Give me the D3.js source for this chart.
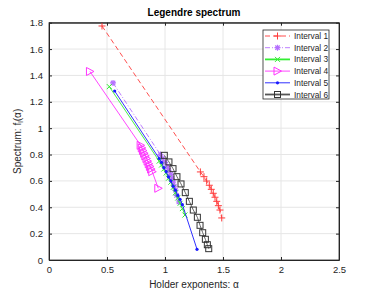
<!DOCTYPE html>
<html>
<head>
<meta charset="utf-8">
<script src="https://cdn.jsdelivr.net/npm/d3@7"></script>
<style>
  body { margin: 0; background: #fff; }
  svg { font-family: "Liberation Sans", Arial, sans-serif; }
  .grid line { stroke: #e6e6e6; stroke-width: 1; }
  .axis path, .axis line { stroke: #262626; }
  .axis text { fill: #262626; font-size: 9.5px; font-family: "Liberation Sans", Arial, sans-serif; }
</style>
</head>
<body>
<svg class="chart" width="374" height="292"></svg>
<script>
(function () {
  var xTicks = [0, 0.5, 1, 1.5, 2, 2.5];
  var yTicks = [0, 0.2, 0.4, 0.6, 0.8, 1, 1.2, 1.4, 1.6, 1.8];
  var names = ["Interval 1", "Interval 2", "Interval 3", "Interval 4", "Interval 5", "Interval 6"];

  var alpha1 = [0.457, 1.305, 1.336, 1.359, 1.382, 1.399, 1.416, 1.431, 1.446, 1.460, 1.474, 1.489];
  var spec1  = [1.775, 0.668, 0.632, 0.599, 0.567, 0.536, 0.506, 0.476, 0.445, 0.412, 0.379, 0.319];

  var alpha2 = [0.552, 0.96, 0.98, 1.00, 1.02, 1.03, 1.05, 1.06, 1.07, 1.08, 1.09, 1.10, 1.12];
  var spec2  = [1.343, 0.80, 0.77, 0.74, 0.71, 0.68, 0.65, 0.62, 0.59, 0.56, 0.53, 0.49, 0.44];

  var alpha3 = [0.52, 0.95, 0.97, 0.99, 1.01, 1.03, 1.05, 1.07, 1.09, 1.11, 1.13, 1.15, 1.172];
  var spec3  = [1.315, 0.75, 0.72, 0.69, 0.66, 0.62, 0.59, 0.55, 0.51, 0.47, 0.43, 0.39, 0.341];

  var alpha4 = [0.353, 0.79, 0.80, 0.81, 0.82, 0.83, 0.84, 0.85, 0.86, 0.87, 0.88, 0.89, 0.942];
  var spec4  = [1.43, 0.87, 0.85, 0.83, 0.81, 0.79, 0.77, 0.75, 0.73, 0.71, 0.69, 0.67, 0.544];

  var alpha5 = [0.566, 0.95, 0.97, 0.99, 1.01, 1.03, 1.05, 1.07, 1.09, 1.11, 1.13, 1.15, 1.276];
  var spec5  = [1.282, 0.77, 0.74, 0.70, 0.67, 0.63, 0.60, 0.56, 0.53, 0.49, 0.46, 0.42, 0.081];

  var alpha6 = [0.994, 1.034, 1.069, 1.103, 1.138, 1.175, 1.21, 1.244, 1.279, 1.302, 1.325, 1.348, 1.365, 1.377];
  var spec6  = [0.794, 0.744, 0.693, 0.632, 0.577, 0.511, 0.445, 0.379, 0.324, 0.263, 0.207, 0.157, 0.116, 0.086];

  var alphas = [alpha1, alpha2, alpha3, alpha4, alpha5, alpha6];
  var specs = [spec1, spec2, spec3, spec4, spec5, spec6];

  var styles = [
    {color: "#ff3b3b", dash: "5,3", marker: "plus"},
    {color: "#b570ff", dash: "5,2,1,2", marker: "star"},
    {color: "#33ee33", dash: null, marker: "cross"},
    {color: "#ff33ff", dash: null, marker: "tri"},
    {color: "#1a1aff", dash: null, marker: "dot"},
    {color: "#333333", dash: null, marker: "square", line: "#555555"}
  ];

  var margin = {top: 22.7, right: 35, bottom: 32, left: 49};
  var width = 374 - margin.left - margin.right;
  var height = 292 - margin.top - margin.bottom;

  var svg = d3.select(".chart");
  var vis = svg.append("g")
      .attr("transform", "translate(" + margin.left + "," + margin.top + ")");

  var xscale = d3.scaleLinear().domain([0, 2.5]).range([0, width]);
  var yscale = d3.scaleLinear().domain([0, 1.8]).range([height, 0]);

  // grid
  vis.append("g").attr("class", "grid")
    .selectAll("line").data(xTicks.slice(1, -1)).enter().append("line")
      .attr("x1", function(d) { return xscale(d); })
      .attr("x2", function(d) { return xscale(d); })
      .attr("y1", 0).attr("y2", height);
  vis.append("g").attr("class", "grid")
    .selectAll("line").data(yTicks.slice(1, -1)).enter().append("line")
      .attr("y1", function(d) { return yscale(d); })
      .attr("y2", function(d) { return yscale(d); })
      .attr("x1", 0).attr("x2", width);

  // axes, ticks inside
  var fmt = function(d) { return d3.format("")(d); };
  vis.append("g").attr("class", "axis")
    .attr("transform", "translate(0," + height + ")")
    .call(d3.axisBottom(xscale).tickValues(xTicks).tickFormat(fmt).tickSizeInner(-3).tickSizeOuter(0).tickPadding(6));
  vis.append("g").attr("class", "axis")
    .call(d3.axisLeft(yscale).tickValues(yTicks).tickFormat(fmt).tickSizeInner(-3).tickSizeOuter(0).tickPadding(6));
  vis.append("g").attr("class", "axis")
    .call(d3.axisTop(xscale).tickValues(xTicks).tickFormat("").tickSizeInner(-3).tickSizeOuter(0));
  vis.append("g").attr("class", "axis")
    .attr("transform", "translate(" + width + ",0)")
    .call(d3.axisRight(yscale).tickValues(yTicks).tickFormat("").tickSizeInner(-3).tickSizeOuter(0));

  function drawMarker(g, type, color, x, y) {
    if (type === "plus") {
      g.append("path").attr("d", "M" + (x - 3.5) + "," + y + "h7M" + x + "," + (y - 3.5) + "v7")
        .attr("stroke", color).attr("stroke-width", 1).attr("fill", "none");
    } else if (type === "cross") {
      g.append("path").attr("d", "M" + (x - 2.5) + "," + (y - 2.5) + "l5,5M" + (x - 2.5) + "," + (y + 2.5) + "l5,-5")
        .attr("stroke", color).attr("stroke-width", 1).attr("fill", "none");
    } else if (type === "star") {
      g.append("path").attr("d", "M" + (x - 3) + "," + y + "h6M" + x + "," + (y - 3) + "v6M" +
          (x - 2.2) + "," + (y - 2.2) + "l4.4,4.4M" + (x - 2.2) + "," + (y + 2.2) + "l4.4,-4.4")
        .attr("stroke", color).attr("stroke-width", 1.2).attr("fill", "none");
    } else if (type === "tri") {
      g.append("path").attr("d", "M" + (x - 3.5) + "," + (y - 4) + "L" + (x + 4) + "," + y + "L" + (x - 3.5) + "," + (y + 4) + "Z")
        .attr("stroke", color).attr("stroke-width", 1).attr("fill", "none");
    } else if (type === "dot") {
      g.append("circle").attr("cx", x).attr("cy", y).attr("r", 1.6).attr("fill", color);
    } else if (type === "square") {
      g.append("rect").attr("x", x - 3).attr("y", y - 3).attr("width", 6).attr("height", 6)
        .attr("stroke", color).attr("stroke-width", 1).attr("fill", "none");
    }
  }

  var line = d3.line()
    .x(function(d) { return xscale(d[0]); })
    .y(function(d) { return yscale(d[1]); });

  alphas.forEach(function(al, i) {
    var pts = al.map(function(a, j) { return [a, specs[i][j]]; });
    var st = styles[i];
    var g = vis.append("g");
    g.append("path")
      .attr("d", line(pts))
      .attr("fill", "none")
      .attr("stroke", st.line || st.color)
      .attr("stroke-width", 0.9)
      .attr("stroke-dasharray", st.dash);
    pts.forEach(function(p) {
      drawMarker(g, st.marker, st.color, xscale(p[0]), yscale(p[1]));
    });
  });

  // box
  vis.append("rect").attr("width", width).attr("height", height)
    .attr("fill", "none").attr("stroke", "#262626").attr("stroke-width", 0.8);

  // legend
  var lg = svg.append("g").attr("transform", "translate(263,30)");
  lg.append("rect").attr("width", 66).attr("height", 69)
    .attr("fill", "#fff").attr("stroke", "#262626").attr("stroke-width", 0.8);
  names.forEach(function(n, i) {
    var y = 6 + i * 11.7;
    var st = styles[i];
    lg.append("line").attr("x1", 2).attr("x2", 27).attr("y1", y).attr("y2", y)
      .attr("stroke", st.line || st.color).attr("stroke-width", i === 2 || i === 5 ? 1.8 : 0.9)
      .attr("stroke-dasharray", st.dash);
    drawMarker(lg, st.marker, st.color, 14.5, y);
    lg.append("text").attr("x", 31).attr("y", y + 3)
      .attr("font-size", "8.3px").attr("fill", "#262626").text(n);
  });

  // title and labels
  svg.append("text").attr("x", margin.left + width / 2).attr("y", 16)
    .attr("text-anchor", "middle").attr("font-size", "10px").attr("font-weight", "bold")
    .attr("fill", "#000").text("Legendre spectrum");

  svg.append("text").attr("x", margin.left + width / 2).attr("y", 288)
    .attr("text-anchor", "middle").attr("font-size", "10px").attr("fill", "#262626")
    .text("Holder exponents: α");

  var yl = svg.append("text")
    .attr("transform", "translate(21," + (margin.top + height / 2) + ") rotate(-90)")
    .attr("text-anchor", "middle").attr("font-size", "10px").attr("fill", "#262626");
  yl.append("tspan").text("Spectrum: f");
  yl.append("tspan").attr("font-size", "7px").attr("dy", 2).text("l");
  yl.append("tspan").attr("dy", -2).text("(α)");
})();
</script>
</body>
</html>
